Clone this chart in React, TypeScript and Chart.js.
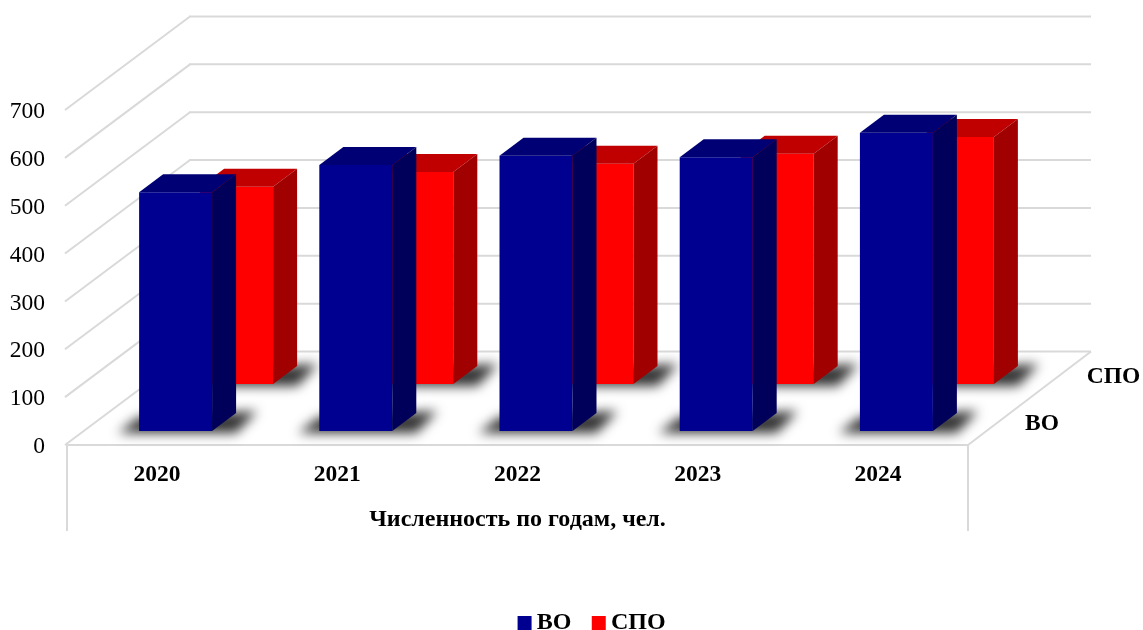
import React, { useEffect, useRef } from "react";
import { Chart, registerables } from "chart.js";

Chart.register(...registerables);

const years = ["2020", "2021", "2022", "2023", "2024"];
const voValues = [499, 556, 575, 572, 623];
const spoValues = [412, 443, 460, 481, 516];
const seriesNames = ["ВО", "СПО"];
const axisTitle = "Численность по годам, чел.";
const FONT = "'Liberation Serif', 'Times New Roman', serif";

// Look of the 3D box: [front, top, side], and where each row stands on the floor.
const looks = [
  { front: "#000090", top: "#000075", side: "#00005a", dx: 18.5, dy: -14, label: [1042, 424] },
  { front: "#ff0000", top: "#c00000", side: "#a00000", dx: 79.5, dy: -61, label: [1113.5, 377] },
];
const BAR_DX = 24;
const BAR_DY = 18;
const WALL_DX = 123;
const WALL_DY = 93.5;
const GRID = "#d9d9d9";

function poly(ctx: CanvasRenderingContext2D, pts: number[][], fill: string) {
  ctx.beginPath();
  pts.forEach((p, i) => (i ? ctx.lineTo(p[0], p[1]) : ctx.moveTo(p[0], p[1])));
  ctx.closePath();
  ctx.fillStyle = fill;
  ctx.fill();
}

const box3d = {
  id: "box3d",
  beforeDraw(chart: any) {
    const { ctx, chartArea: a, scales } = chart;
    const y = scales.y;
    const base = y.getPixelForValue(0);
    ctx.save();
    ctx.strokeStyle = GRID;
    ctx.lineWidth = 2;
    const seg = (x0: number, y0: number, x1: number, y1: number) => {
      ctx.beginPath();
      ctx.moveTo(x0, y0);
      ctx.lineTo(x1, y1);
      ctx.stroke();
    };
    y.ticks.forEach((t: any) => {
      const py = y.getPixelForValue(t.value);
      seg(a.left - 2, py, a.left + WALL_DX, py - WALL_DY);
      seg(a.left + WALL_DX - 1, py - WALL_DY, a.right + WALL_DX, py - WALL_DY);
    });
    seg(a.left - 1, base, a.right + 1, base);
    seg(a.right, base, a.right + WALL_DX, base - WALL_DY);
    seg(a.left, base - 1, a.left, 531);
    seg(a.right, base - 1, a.right, 531);
    ctx.restore();
    ctx.save();
    ctx.font = `bold 23.5px ${FONT}`;
    ctx.fillStyle = "#000";
    ctx.textAlign = "center";
    ctx.textBaseline = "middle";
    seriesNames.forEach((n, i) => ctx.fillText(n, looks[i].label[0], looks[i].label[1]));
    ctx.restore();
  },
  beforeDatasetDraw(chart: any, args: any) {
    const { ctx } = chart;
    const look = looks[args.index];
    ctx.save();
    ctx.translate(look.dx, look.dy);
    ctx.save();
    ctx.filter = "blur(6px)";
    args.meta.data.forEach((el: any) => {
      const l = el.x - el.width / 2;
      const r = el.x + el.width / 2;
      const b = el.base;
      poly(ctx, [[l - 21, b + 2], [l, b - 14], [r + 45, b - 20], [r + 24, b + 2]], "#333");
    });
    ctx.restore();
  },
  afterDatasetDraw(chart: any, args: any) {
    const { ctx } = chart;
    const look = looks[args.index];
    args.meta.data.forEach((el: any) => {
      const l = el.x - el.width / 2;
      const r = el.x + el.width / 2;
      const t = el.y;
      const b = el.base;
      poly(ctx, [[l, t], [l + BAR_DX, t - BAR_DY], [r + BAR_DX, t - BAR_DY], [r, t]], look.top);
      poly(ctx, [[r, t], [r + BAR_DX, t - BAR_DY], [r + BAR_DX, b - BAR_DY], [r, b]], look.side);
    });
    ctx.restore();
  },
};

export default function App() {
  const ref = useRef<HTMLCanvasElement>(null);
  useEffect(() => {
    const chart = new Chart(ref.current!, {
      type: "bar",
      data: {
        labels: years,
        datasets: [
          { label: seriesNames[0], data: voValues, backgroundColor: looks[0].front, order: 0 },
          { label: seriesNames[1], data: spoValues, backgroundColor: looks[1].front, order: 1 },
        ],
      },
      plugins: [box3d],
      options: {
        responsive: false,
        animation: false,
        devicePixelRatio: 1,
        layout: { padding: { left: 8, right: -39, top: 110, bottom: -15 } },
        datasets: { bar: { grouped: false, categoryPercentage: 1, barPercentage: 0.405, clip: false } },
        plugins: {
          tooltip: { enabled: false },
          title: { display: false },
          legend: {
            display: true,
            position: "bottom",
            labels: {
              usePointStyle: true,
              pointStyle: "rect",
              boxWidth: 0.5,
              boxHeight: 14,
              padding: 27,
              color: "#000",
              font: { family: FONT, size: 24, weight: "bold" },
            },
          },
        },
        scales: {
          x: {
            type: "category",
            grid: { display: false },
            border: { display: false },
            ticks: { color: "#000", font: { family: FONT, size: 23.5, weight: "bold" }, padding: 8, maxRotation: 0 },
            title: {
              display: true,
              text: axisTitle,
              color: "#000",
              font: { family: FONT, size: 24, weight: "bold" },
              padding: { top: 0, bottom: 50 },
            },
            afterFit: (s: any) => {
              s.height = 139;
            },
          },
          y: {
            type: "linear",
            min: 0,
            max: 700,
            grid: { display: false, drawTicks: false },
            border: { display: false },
            ticks: { stepSize: 100, color: "#000", font: { family: FONT, size: 23.5 }, padding: 22, labelOffset: 2 },
            afterFit: (s: any) => {
              s.width = 59;
            },
          },
          yRight: {
            type: "linear",
            position: "right",
            display: true,
            grid: { display: false, drawTicks: false },
            border: { display: false },
            ticks: { display: false },
            afterFit: (s: any) => {
              s.width = 214;
            },
          },
        },
      },
    } as any);
    return () => chart.destroy();
  }, []);
  return (
    <div style={{ position: "fixed", left: 0, top: 0, width: 1143, height: 630, background: "#fff" }}>
      <canvas ref={ref} width={1143} height={630} style={{ display: "block" }} />
    </div>
  );
}
